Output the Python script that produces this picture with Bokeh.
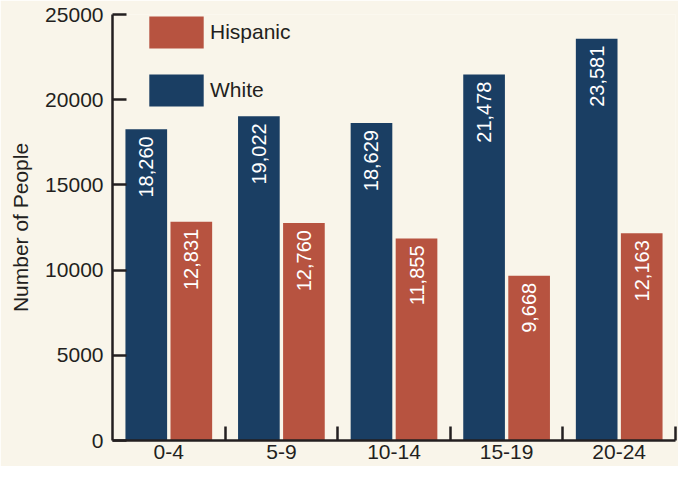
from bokeh.plotting import figure
from bokeh.models import (Range1d, FixedTicker, ColumnDataSource, Legend, LegendItem, LabelSet)
from bokeh.core.properties import value
from bokeh.embed import file_html
from bokeh.resources import INLINE
from math import pi

categories = ["0-4", "5-9", "10-14", "15-19", "20-24"]
white = [18260, 19022, 18629, 21478, 23581]
hispanic = [12831, 12760, 11855, 9668, 12163]
y_ticks = [0, 5000, 10000, 15000, 20000, 25000]

BG = "#f9f5ea"
BLUE = "#1a3e63"
RED = "#b75340"
INK = "#231f20"
FONT = "Liberation Sans"

idx = list(range(len(categories)))
centers = [i + 0.5 for i in idx]
bounds = [i + 1 for i in idx]

src_w = ColumnDataSource(dict(x=[c - 0.2 for c in centers], top=white,
                              lab=[f"{v:,}" for v in white]))
src_h = ColumnDataSource(dict(x=[c + 0.2 for c in centers], top=hispanic,
                              lab=[f"{v:,}" for v in hispanic]))

p = figure(width=678, height=466, output_backend="svg", toolbar_location=None,
           x_range=Range1d(0, len(categories)), y_range=Range1d(0, 25000),
           min_border_left=112, min_border_right=3, min_border_top=14, min_border_bottom=26)
p.background_fill_color = BG
p.border_fill_color = BG
p.outline_line_color = None
p.grid.visible = False

rw = p.vbar(x="x", top="top", width=0.37, source=src_w, fill_color=BLUE, line_color=None)
rh = p.vbar(x="x", top="top", width=0.37, source=src_h, fill_color=RED, line_color=None)

for src in (src_w, src_h):
    p.add_layout(LabelSet(x="x", y="top", text="lab", source=src, angle=pi / 2,
                          text_align="right", text_baseline="middle", y_offset=-7,
                          text_color="#ffffff", text_font=value(FONT),
                          text_font_size=value("20px")))

# x axis: labels at category centers, ticks at boundaries
xa = p.xaxis[0]
xa.ticker = FixedTicker(ticks=centers, minor_ticks=bounds)
xa.major_label_overrides = {c: n for c, n in zip(centers, categories)}
xa.major_tick_in = 0
xa.major_tick_out = 0
xa.minor_tick_in = 14
xa.minor_tick_out = 0
xa.minor_tick_line_color = INK
xa.minor_tick_line_width = 2.5
xa.axis_line_color = INK
xa.axis_line_width = 2.5
xa.major_label_text_font = FONT
xa.major_label_text_font_size = "21px"
xa.major_label_text_color = INK
xa.major_label_standoff = 4

ya = p.yaxis[0]
ya.ticker = FixedTicker(ticks=y_ticks, minor_ticks=[])
ya.formatter.use_scientific = False
ya.major_tick_in = 14
ya.major_tick_out = 0
ya.major_tick_line_color = INK
ya.major_tick_line_width = 2.5
ya.minor_tick_line_color = None
ya.axis_line_color = INK
ya.axis_line_width = 2.5
ya.major_label_text_font = FONT
ya.major_label_text_font_size = "21px"
ya.major_label_text_color = INK
ya.major_label_standoff = 9
ya.axis_label = "Number of People"
ya.axis_label_text_font = FONT
ya.axis_label_text_font_size = "21px"
ya.axis_label_text_font_style = "normal"
ya.axis_label_text_color = INK
ya.axis_label_standoff = 10

legend = Legend(items=[LegendItem(label="Hispanic", renderers=[rh]),
                       LegendItem(label="White", renderers=[rw])],
                location=(30, 330), orientation="vertical",
                glyph_width=68, glyph_height=40, spacing=18, padding=0, margin=0,
                label_standoff=0, label_text_font=FONT, label_text_font_size="21px",
                label_text_color=INK, background_fill_alpha=0, border_line_color=None)
p.add_layout(legend)

open("out.html", "w").write(file_html(p, INLINE))
